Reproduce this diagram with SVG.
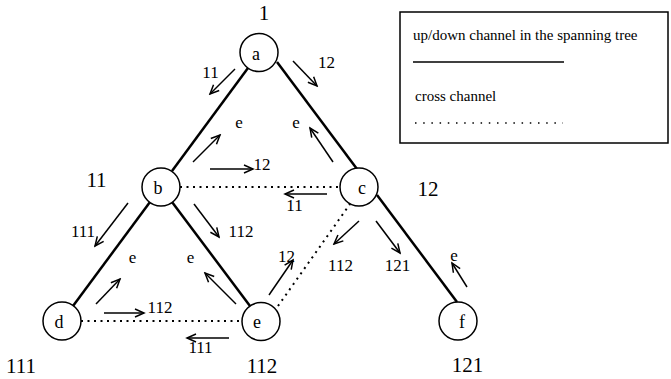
<svg xmlns="http://www.w3.org/2000/svg" width="671" height="379" viewBox="0 0 671 379">
<defs>
<marker id="ah" markerUnits="userSpaceOnUse" markerWidth="12" markerHeight="10" refX="10" refY="5" orient="auto">
<path d="M1,1 L10,5 L1,9" fill="none" stroke="#000" stroke-width="1.5"/>
</marker>
<style>
text{font-family:"Liberation Serif","Times New Roman",serif;fill:#000}
.node circle{fill:#fff;stroke:#000;stroke-width:1.5}
.node text{font-size:18px;text-anchor:middle}
.node text.big{font-size:21px}
.sm{font-size:17px;text-anchor:middle}
.lg{font-size:15px}
.tree{stroke:#000;stroke-width:2.5;fill:none}
.cross{stroke:#000;stroke-width:2;stroke-dasharray:2 4.5;fill:none}
.arr{stroke:#000;stroke-width:1.5;fill:none;marker-end:url(#ah)}
</style>
</defs>
<rect width="671" height="379" fill="#fff"/>
<g id="connectors">
<line class="tree" x1="248" y1="68" x2="172" y2="171"/>
<line class="tree" x1="277" y1="62" x2="357" y2="169"/>
<line class="tree" x1="150" y1="202" x2="73" y2="306"/>
<line class="tree" x1="172" y1="202" x2="250" y2="306"/>
<line class="tree" x1="377" y1="195" x2="457" y2="302"/>
<line class="cross" x1="180" y1="187" x2="340" y2="187"/>
<line class="cross" x1="81" y1="321" x2="242" y2="321"/>
<line class="cross" x1="278" y1="306" x2="350" y2="204"/>
</g>
<g id="arrows">
<line class="arr" x1="235" y1="69" x2="210" y2="94"/>
<line class="arr" x1="293" y1="61" x2="317" y2="86"/>
<line class="arr" x1="193" y1="162" x2="220" y2="135"/>
<line class="arr" x1="333" y1="162" x2="310" y2="128"/>
<line class="arr" x1="210" y1="169" x2="253" y2="169"/>
<line class="arr" x1="327" y1="194" x2="285" y2="194"/>
<line class="arr" x1="194" y1="204" x2="219" y2="237"/>
<line class="arr" x1="128" y1="203" x2="95" y2="246"/>
<line class="arr" x1="96" y1="304" x2="120" y2="279"/>
<line class="arr" x1="236" y1="304" x2="205" y2="273"/>
<line class="arr" x1="269" y1="295" x2="293" y2="260"/>
<line class="arr" x1="104" y1="313" x2="144" y2="313"/>
<line class="arr" x1="229" y1="338" x2="187" y2="338"/>
<line class="arr" x1="359" y1="221" x2="334" y2="244"/>
<line class="arr" x1="376" y1="221" x2="400" y2="253"/>
<line class="arr" x1="467" y1="287" x2="452" y2="263"/>
</g>
<g id="labels">
<text class="sm" x="210.5" y="78">11</text>
<text class="sm" x="326.5" y="68">12</text>
<text class="sm" x="239" y="128">e</text>
<text class="sm" x="296" y="128">e</text>
<text class="sm" x="262" y="170">12</text>
<text class="sm" x="294.5" y="211">11</text>
<text class="sm" x="241" y="237">112</text>
<text class="sm" x="83" y="237">111</text>
<text class="sm" x="132.5" y="263">e</text>
<text class="sm" x="190.5" y="263">e</text>
<text class="sm" x="286.5" y="262">12</text>
<text class="sm" x="160" y="313">112</text>
<text class="sm" x="200.5" y="353">111</text>
<text class="sm" x="340.5" y="271">112</text>
<text class="sm" x="397.5" y="271">121</text>
<text class="sm" x="454" y="261">e</text>
</g>
<g id="node-a" class="node"><circle cx="259" cy="52.5" r="19"/><text x="256" y="59.5">a</text><text class="big" x="264" y="20">1</text></g>
<g id="node-b" class="node"><circle cx="161" cy="187" r="19"/><text x="158" y="194">b</text><text class="big" x="96.5" y="187">11</text></g>
<g id="node-c" class="node"><circle cx="359" cy="187" r="19"/><text x="362" y="193.5">c</text><text class="big" x="428" y="196">12</text></g>
<g id="node-d" class="node"><circle cx="62" cy="321" r="19"/><text x="59" y="328">d</text><text class="big" x="21" y="373">111</text></g>
<g id="node-e" class="node"><circle cx="261" cy="321.5" r="19"/><text x="257" y="328">e</text><text class="big" x="262" y="373">112</text></g>
<g id="node-f" class="node"><circle cx="458" cy="321" r="19"/><text x="462" y="328">f</text><text class="big" x="467.5" y="372">121</text></g>
<g id="legend">
<rect x="400" y="12" width="268" height="131" fill="#fff" stroke="#000" stroke-width="1.5"/>
<text class="lg" x="413" y="40">up/down channel in the spanning tree</text>
<line x1="413" y1="62" x2="564" y2="62" stroke="#000" stroke-width="1.5"/>
<text class="lg" x="415" y="101">cross channel</text>
<line x1="415" y1="123" x2="563" y2="123" stroke="#000" stroke-width="1.5" stroke-dasharray="1.5 6.7"/>
</g>
</svg>
